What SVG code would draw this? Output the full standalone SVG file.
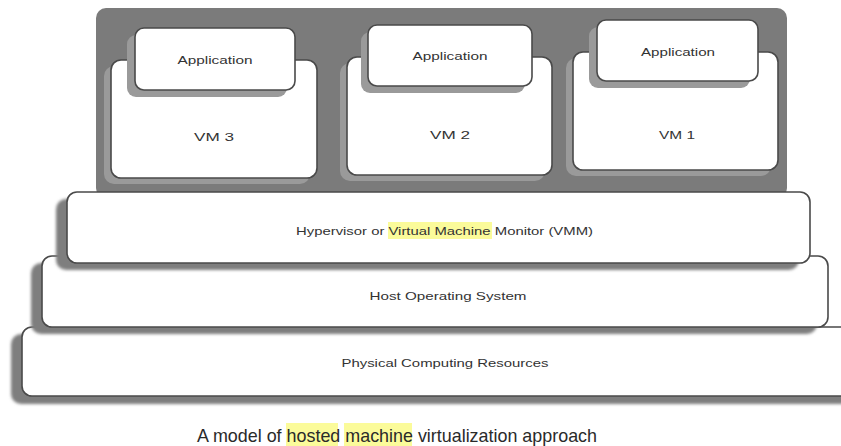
<svg xmlns="http://www.w3.org/2000/svg" width="841" height="446" viewBox="0 0 841 446">
  <defs>
    <filter id="soft" x="-10%" y="-20%" width="120%" height="140%">
      <feGaussianBlur stdDeviation="1.5"/>
    </filter>
    <style>
      .box { fill: #ffffff; stroke: #4a4a4a; stroke-width: 1.6; }
      .shadow { fill: #7e7e7e; filter: url(#soft); }
      .inshadow { fill: #9a9a9a; }
      .lbl { font-family: "Liberation Sans", Arial, sans-serif; font-size: 11.5px; fill: #333333; text-anchor: middle; }
      .hl { fill: #fbfb9a; }
      .cap { font-family: "Liberation Sans", Arial, sans-serif; font-size: 19px; fill: #2a2a2a; }
    </style>
  </defs>
  <rect width="841" height="446" fill="#ffffff"/>

  <!-- guest area -->
  <g id="guest-area">
    <rect x="96" y="8" width="691" height="190" rx="10" fill="#7b7b7b"/>
  </g>

  <g id="vm3">
    <rect class="inshadow" x="104" y="66" width="206" height="118" rx="10"/>
    <rect class="box" x="111" y="60" width="206" height="118" rx="10"/>
    <text class="lbl" x="214" y="141" textLength="40" lengthAdjust="spacingAndGlyphs">VM 3</text>
  </g>
  <g id="app3">
    <rect class="inshadow" x="127" y="35" width="160" height="62" rx="9"/>
    <rect class="box" x="135" y="28" width="160" height="62" rx="9"/>
    <text class="lbl" x="215" y="64" textLength="75" lengthAdjust="spacingAndGlyphs">Application</text>
  </g>

  <g id="vm2">
    <rect class="inshadow" x="340" y="63" width="205" height="118" rx="10"/>
    <rect class="box" x="347" y="57" width="205" height="118" rx="10"/>
    <text class="lbl" x="450" y="139" textLength="40" lengthAdjust="spacingAndGlyphs">VM 2</text>
  </g>
  <g id="app2">
    <rect class="inshadow" x="361" y="32" width="164" height="61" rx="9"/>
    <rect class="box" x="368" y="25" width="164" height="61" rx="9"/>
    <text class="lbl" x="450" y="60" textLength="75" lengthAdjust="spacingAndGlyphs">Application</text>
  </g>

  <g id="vm1">
    <rect class="inshadow" x="566" y="58" width="205" height="118" rx="10"/>
    <rect class="box" x="573" y="52" width="205" height="118" rx="10"/>
    <text class="lbl" x="677" y="139" textLength="36" lengthAdjust="spacingAndGlyphs">VM 1</text>
  </g>
  <g id="app1">
    <rect class="inshadow" x="589" y="27" width="161" height="61" rx="9"/>
    <rect class="box" x="597" y="20" width="161" height="61" rx="9"/>
    <text class="lbl" x="678" y="56" textLength="74" lengthAdjust="spacingAndGlyphs">Application</text>
  </g>

  <!-- layered platform, bottom to top -->
  <g id="physical">
    <rect class="shadow" x="11" y="334" width="840" height="70" rx="10"/>
    <rect class="box" x="22" y="327" width="830" height="69" rx="10"/>
    <text class="lbl" x="445" y="367" textLength="207" lengthAdjust="spacingAndGlyphs">Physical Computing Resources</text>
  </g>

  <g id="host-os">
    <rect class="shadow" x="31" y="263" width="786" height="71" rx="10"/>
    <rect class="box" x="42" y="256" width="786" height="71" rx="10"/>
    <text class="lbl" x="448" y="300" textLength="157" lengthAdjust="spacingAndGlyphs">Host Operating System</text>
  </g>

  <g id="hypervisor">
    <rect class="shadow" x="56" y="199" width="743" height="71" rx="10"/>
    <rect class="box" x="67" y="192" width="743" height="71" rx="10"/>
    <rect class="hl" x="388" y="222" width="104" height="17"/>
    <text class="lbl" x="444.5" y="235" textLength="297" lengthAdjust="spacingAndGlyphs">Hypervisor or Virtual Machine Monitor (VMM)</text>
  </g>

  <g id="caption">
    <rect class="hl" x="286" y="423" width="52" height="23"/>
    <rect class="hl" x="344" y="423" width="68" height="23"/>
    <text class="cap" x="197" y="442" textLength="400" lengthAdjust="spacingAndGlyphs">A model of hosted machine virtualization approach</text>
  </g>
</svg>
